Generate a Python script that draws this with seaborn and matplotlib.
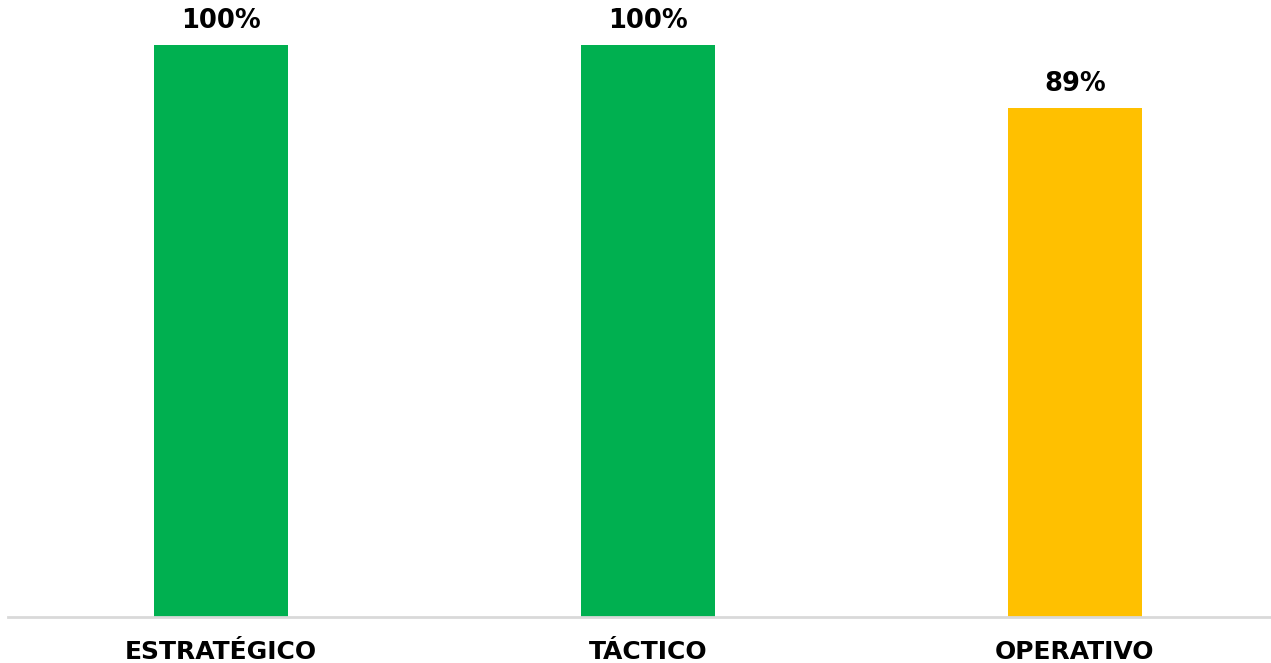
import matplotlib
matplotlib.use("Agg")
import matplotlib.pyplot as plt
import seaborn as sns
import pandas as pd

categories = ["ESTRATÉGICO", "TÁCTICO", "OPERATIVO"]
values = [100, 100, 89]
colors = ["#00B050", "#00B050", "#FFC000"]

sns.set_theme(style="white")
plt.rcParams["font.family"] = ["DejaVu Sans"]

W, H = 1271, 663
fig = plt.figure(figsize=(W / 100, H / 100), dpi=100)
x0, base = 7.5, 617
ax = fig.add_axes([x0 / W, (H - base) / H, (W - x0) / W, base / H])

df = pd.DataFrame({"cat": categories, "val": values})
sns.barplot(data=df, x="cat", y="val", hue="cat", palette=colors, legend=False,
            width=134 / 427, saturation=1, linewidth=0, ax=ax)

ax.set_xlim(-0.5, -0.5 + (W - x0) / 427)
ax.set_ylim(0, 100 * base / 572)
for s in ["top", "right", "left"]:
    ax.spines[s].set_visible(False)
ax.spines["bottom"].set_color("#d9d9d9")
ax.spines["bottom"].set_linewidth(2)
ax.set_yticks([])
ax.set_xlabel("")
ax.set_ylabel("")
ax.tick_params(axis="x", length=0, pad=16.5, labelsize=18)
for lbl in ax.get_xticklabels():
    lbl.set_fontweight("bold")
    lbl.set_color("black")

for i, v in enumerate(values):
    ax.annotate(f"{v}%", (i, v), xytext=(0, 8), textcoords="offset points",
                ha="center", va="bottom", fontsize=18.5, fontweight="bold", color="black")

fig.savefig("out.png", dpi=100, facecolor="white")
